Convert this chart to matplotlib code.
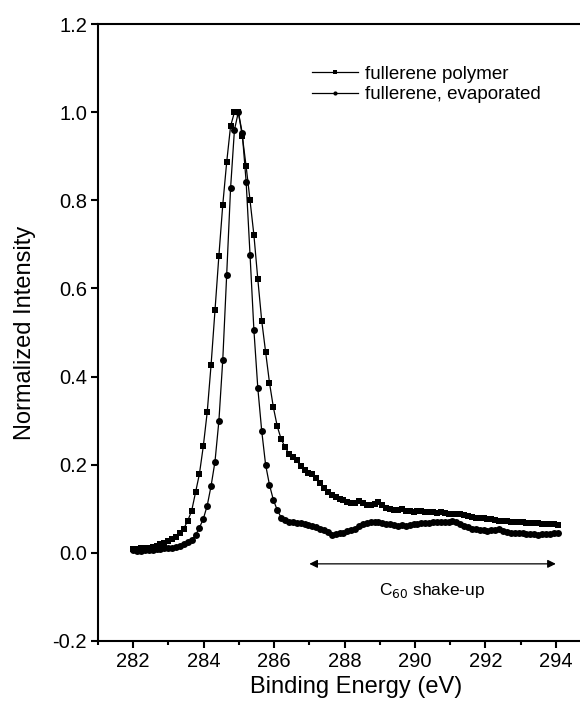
import numpy as np
import matplotlib
matplotlib.use("Agg")
import matplotlib.pyplot as plt
from matplotlib.ticker import MultipleLocator
from matplotlib.lines import Line2D

plt.rcParams['font.family'] = ['Liberation Sans', 'DejaVu Sans']

# Binding energy range of the scans (eV)
e_start, e_end = 282.0, 294.05

polymer = [
    0.008, 0.009, 0.010, 0.011, 0.012, 0.014, 0.016, 0.019, 0.022, 0.026,
    0.031, 0.036, 0.044, 0.055, 0.073, 0.095, 0.137, 0.179, 0.242, 0.319,
    0.427, 0.550, 0.674, 0.790, 0.886, 0.968, 1.000, 1.000, 0.947, 0.877,
    0.800, 0.721, 0.621, 0.527, 0.456, 0.386, 0.330, 0.287, 0.258, 0.240,
    0.225, 0.217, 0.210, 0.196, 0.188, 0.182, 0.178, 0.170, 0.158, 0.147,
    0.138, 0.132, 0.126, 0.122, 0.119, 0.116, 0.114, 0.112, 0.117, 0.113,
    0.108, 0.109, 0.110, 0.116, 0.108, 0.101, 0.100, 0.098, 0.097, 0.099,
    0.096, 0.095, 0.093, 0.095, 0.095, 0.093, 0.093, 0.092, 0.091, 0.092,
    0.090, 0.089, 0.088, 0.087, 0.087, 0.085, 0.083, 0.081, 0.080, 0.079,
    0.078, 0.077, 0.076, 0.074, 0.073, 0.072, 0.072, 0.071, 0.070, 0.069,
    0.069, 0.068, 0.068, 0.067, 0.067, 0.066, 0.066, 0.065, 0.065, 0.064,
]

evaporated = [
    0.006, 0.005, 0.005, 0.006, 0.006, 0.007, 0.008, 0.009, 0.010, 0.011,
    0.012, 0.014, 0.016, 0.019, 0.024, 0.030, 0.040, 0.057, 0.077, 0.107,
    0.152, 0.207, 0.299, 0.438, 0.630, 0.827, 0.960, 1.000, 0.953, 0.842,
    0.677, 0.505, 0.374, 0.277, 0.200, 0.154, 0.120, 0.097, 0.080, 0.075,
    0.071, 0.069, 0.068, 0.067, 0.066, 0.064, 0.061, 0.058, 0.055, 0.051,
    0.047, 0.041, 0.043, 0.045, 0.046, 0.049, 0.052, 0.055, 0.062, 0.066,
    0.068, 0.070, 0.069, 0.070, 0.068, 0.066, 0.065, 0.064, 0.062, 0.063,
    0.061, 0.064, 0.065, 0.066, 0.067, 0.068, 0.067, 0.069, 0.070, 0.069,
    0.070, 0.071, 0.072, 0.070, 0.066, 0.062, 0.058, 0.055, 0.054, 0.052,
    0.051, 0.050, 0.051, 0.052, 0.055, 0.050, 0.047, 0.046, 0.045, 0.045,
    0.044, 0.043, 0.042, 0.042, 0.041, 0.042, 0.042, 0.043, 0.044, 0.045,
]

labels = ["fullerene polymer", "fullerene, evaporated"]
xticks = [282, 284, 286, 288, 290, 292, 294]
yticks = [-0.2, 0.0, 0.2, 0.4, 0.6, 0.8, 1.0, 1.2]
shake_range = (287.0, 294.0)
shake_label = "C$_{60}$ shake-up"

x_poly = np.linspace(e_start, e_end, len(polymer))
x_evap = np.linspace(e_start, e_end, len(evaporated))

fig = plt.figure(figsize=(5.8, 7.11), dpi=100)
ax = fig.add_axes([0.169, 0.0985, 0.850, 0.8677])

ax.plot(x_poly, polymer, color='black', lw=0.9, marker='s', ms=4.4,
        markeredgewidth=0)
ax.plot(x_evap, evaporated, color='black', lw=0.9, marker='o', ms=5.0,
        markeredgewidth=0)

ax.set_xlim(281, 295)
ax.set_ylim(-0.2, 1.2)
ax.set_xticks(xticks)
ax.set_yticks(yticks)
ax.set_yticklabels([f"{v:.1f}" for v in yticks])
ax.xaxis.set_minor_locator(MultipleLocator(1))

for s in ['left', 'top', 'bottom', 'right']:
    ax.spines[s].set_linewidth(1.5)

ax.tick_params(axis='both', which='major', direction='out', length=5,
               width=1.5, labelsize=14.5, pad=3)
ax.tick_params(axis='x', which='minor', direction='out', length=3, width=1.5)

ax.set_xlabel("Binding Energy (eV)", fontsize=17, labelpad=5)
ax.xaxis.set_label_coords(0.523, -0.056)
ax.set_ylabel("Normalized Intensity", fontsize=17, labelpad=12)

handles = [
    Line2D([], [], color='black', lw=0.9, marker='s', ms=3.0, markeredgewidth=0),
    Line2D([], [], color='black', lw=0.9, marker='o', ms=3.0, markeredgewidth=0),
]
ax.legend(handles, labels, loc='upper left', bbox_to_anchor=(0.418, 0.945),
          frameon=False, fontsize=13.5, handlelength=2.5, handletextpad=0.35,
          labelspacing=0.2, borderaxespad=0)

ax.annotate('', xy=(shake_range[1], -0.025), xytext=(shake_range[0], -0.025),
            arrowprops=dict(arrowstyle='<|-|>', color='black', lw=0.9,
                            mutation_scale=12, shrinkA=0, shrinkB=0))
ax.text(sum(shake_range) / 2, -0.085, shake_label, ha='center',
        va='center', fontsize=12.5)

fig.savefig("out.png", dpi=100)
